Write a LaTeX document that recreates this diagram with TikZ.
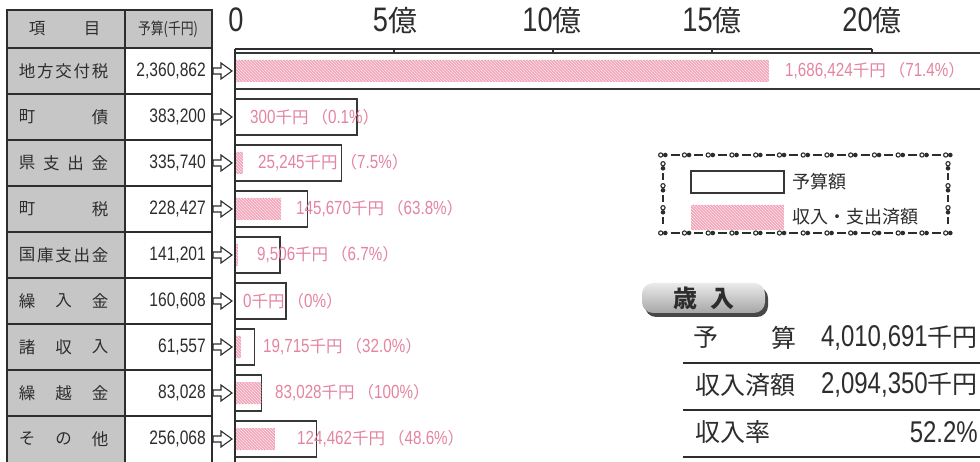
\documentclass[tikz,border=0pt]{standalone}
\usepackage{fontspec}
\setmainfont{Noto Sans CJK JP}
\newfontfamily\numfont{Liberation Sans}[FakeStretch=0.8]
\newfontfamily\jpcond{Noto Sans CJK JP}[FakeStretch=0.8]
\usetikzlibrary{patterns}
\definecolor{ink}{RGB}{45,45,45}
\definecolor{cellgray}{RGB}{198,198,198}
\definecolor{barpink}{RGB}{243,165,186}
\definecolor{labpink}{RGB}{228,132,160}
\definecolor{linegray}{RGB}{55,55,55}
\tikzset{
  tbl/.style={draw=ink, line width=1.3},
  budgetbox/.style={draw=linegray, line width=1.3, fill=white},
  actbar/.style={fill=barpink, postaction={pattern=north west lines, pattern color=white!75!barpink}},
  lab/.style={anchor=west, inner sep=0, text=labpink, font=\fontsize{16.5}{17}\selectfont},
  cjk/.style={text=ink, inner sep=0, font=\fontsize{16.5}{16.5}\selectfont},
  legtxt/.style={text=ink, inner sep=0, anchor=west, font=\fontsize{18}{18}\selectfont},
  tnum/.style={anchor=east, inner sep=0, text=ink, font=\numfont\fontsize{19.5}{20}\selectfont},
  arrowshape/.style={draw=ink, fill=white, line width=1.1, line join=miter},
  axl/.style={anchor=base, inner sep=0, text=ink, font=\fontsize{29}{29}\selectfont},
  sumtxt/.style={inner sep=0, text=ink, font=\fontsize{25}{25}\selectfont},
  sumline/.style={draw=ink, line width=1.8},
  chain/.style={draw=ink, line width=1.1},
}
\newcommand{\pl}[2]{{\numfont\fontsize{19}{19}\selectfont #1}千円\hspace{3pt}（{\numfont\fontsize{19}{19}\selectfont #2}）}
\newcommand{\axn}[1]{{\numfont\fontsize{34}{34}\selectfont #1}}
\newcommand{\sumn}[1]{{\numfont\fontsize{30}{30}\selectfont #1}}
% #1 id, #2 y centre, #3 budget x, #4 actual x, #5 label x, #6 budget text, #7 actual, #8 percent
\newcommand{\brow}[8]{%
  \draw[budgetbox] (235,#2-18) rectangle (#3,#2+18);
  \fill[actbar] (235,#2-11) rectangle (#4,#2+11);
  \node[tnum] (n#1) at (206,#2) {#6};
  \draw[arrowshape] (213,#2-3) -- (221,#2-3) -- (221,#2-8) -- (232,#2) -- (221,#2+8) -- (221,#2+3) -- (213,#2+3) -- cycle;
  \node[lab] (l#1) at (#5,#2) {\pl{#7}{#8}};
}
\newcommand{\rlab}[4]{\foreach \c [count=\k] in {#4} {\node[cjk] (#1-\k) at ({27+(\k-1)*#3},#2) {\c};}}
\begin{document}
\begin{tikzpicture}[x=1pt,y=-1pt]
\useasboundingbox (0,0) rectangle (980,462);
\clip (0,0) rectangle (980,462);
\fill[white] (0,0) rectangle (980,462);
% ---- table ----
\fill[cellgray] (7,10) rectangle (125,470);
\fill[cellgray] (125,10) rectangle (212,48);
\draw[tbl] (7,10) rectangle (212,470);
\draw[tbl] (125,10) -- (125,470);
\foreach \yy in {48,94,140,186,232,278,324,370,416} \draw[tbl] (7,\yy) -- (212,\yy);
\node[cjk] (h1) at (37,29) {項};
\node[cjk] (h2) at (92,29) {目};
\node[cjk, font=\jpcond\fontsize{16}{16}\selectfont] (h3) at (168,29) {予算(千円)};
\rlab{r1}{71}{18.25}{地,方,交,付,税}
\rlab{r2}{117}{73}{町,債}
\rlab{r3}{163}{24.33}{県,支,出,金}
\rlab{r4}{209}{73}{町,税}
\rlab{r5}{255}{18.25}{国,庫,支,出,金}
\rlab{r6}{301}{36.5}{繰,入,金}
\rlab{r7}{347}{36.5}{諸,収,入}
\rlab{r8}{393}{36.5}{繰,越,金}
\rlab{r9}{439}{36.5}{そ,の,他}
% ---- axis ----
\draw[ink, line width=1.2] (235,49) -- (872,49);
\foreach \tx in {394,553,712,872} \draw[ink, line width=1.2] (\tx,49) -- (\tx,57);
\node[axl] (a0) at (236,32) {\axn{0}};
\node[axl] (a5) at (395,32) {\axn{5}億};
\node[axl] (a10) at (552,32) {\axn{10}億};
\node[axl] (a15) at (712,32) {\axn{15}億};
\node[axl] (a20) at (872,32) {\axn{20}億};
% ---- bars ----
\brow{1}{71}{995}{769}{785}{2,360,862}{1,686,424}{71.4\%}
\brow{2}{117}{356.9}{235.1}{250}{383,200}{300}{0.1\%}
\brow{3}{163}{341.8}{243}{258}{335,740}{25,245}{7.5\%}
\brow{4}{209}{307.6}{281.3}{296}{228,427}{145,670}{63.8\%}
\brow{5}{255}{279.9}{238}{257}{141,201}{9,506}{6.7\%}
\brow{6}{301}{286.1}{235}{243}{160,608}{0}{0\%}
\brow{7}{347}{254.6}{241.3}{263}{61,557}{19,715}{32.0\%}
\brow{8}{393}{261.4}{261.4}{275}{83,028}{83,028}{100\%}
\brow{9}{439}{316.4}{274.6}{297}{256,068}{124,462}{48.6\%}
\draw[ink, line width=1.3] (235,49) -- (235,470);
% ---- legend ----
\foreach \k in {0,...,12} {
  \draw[chain] ({663+\k*23.75-2.3},155) circle (2.1);
  \fill[ink] ({663+\k*23.75+2.3},155) circle (2.3);
  \draw[chain] ({663+\k*23.75-2.3},233) circle (2.1);
  \fill[ink] ({663+\k*23.75+2.3},233) circle (2.3);
}
\foreach \k in {0,...,11} {
  \draw[chain] ({663+\k*23.75+7.5},155) -- ({663+\k*23.75+16.5},155);
  \draw[chain] ({663+\k*23.75+7.5},233) -- ({663+\k*23.75+16.5},233);
}
\foreach \xx in {663,948} {
  \foreach \yy in {166,188,210} {
    \draw[chain] (\xx,\yy-2.3) circle (2.1);
    \fill[ink] (\xx,\yy+2.3) circle (2.3);
  }
  \foreach \yy in {177,199,221} \draw[chain] (\xx,\yy-3.5) -- (\xx,\yy+3.5);
}
\draw[draw=linegray, line width=1.2] (691,171) rectangle (784,193);
\fill[actbar] (691,205) rectangle (784,230);
\node[legtxt] (lg1) at (792,182) {予算額};
\node[legtxt] (lg2) at (792,217) {収入・支出済額};
% ---- badge ----
\fill[black!72, rounded corners=11] (645,287) rectangle (768,317);
\shade[top color=black!8, bottom color=black!35, rounded corners=11] (642,283) rectangle (765,313);
\node[inner sep=0, text=ink, font=\bfseries\fontsize{24}{24}\selectfont] (sai) at (704,298) {歳\hspace{0.55em}入};
% ---- summary ----
\node[sumtxt] (s1a) at (706,338) {予};
\node[sumtxt] (s1b) at (784,338) {算};
\node[sumtxt, anchor=east] (s1c) at (978,338) {\sumn{4,010,691}千円};
\node[sumtxt, anchor=west] (s2a) at (695,385) {収入済額};
\node[sumtxt, anchor=east] (s2c) at (978,385) {\sumn{2,094,350}千円};
\node[sumtxt, anchor=west] (s3a) at (695,432) {収入率};
\node[sumtxt, anchor=east] (s3c) at (978,432) {\sumn{52.2\%}};
\draw[sumline] (683,363) -- (985,363);
\draw[sumline] (683,410) -- (985,410);
\draw[sumline] (683,457) -- (985,457);
\end{tikzpicture}
\end{document}
